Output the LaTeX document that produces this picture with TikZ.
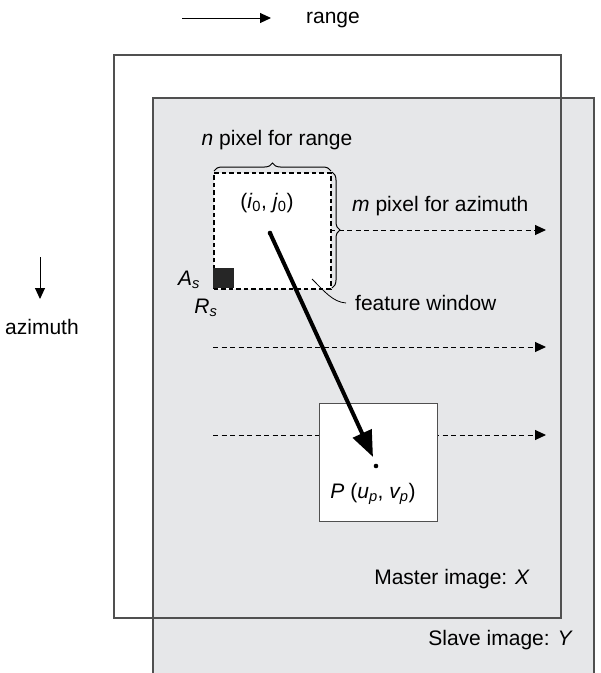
\documentclass[tikz,border=0pt]{standalone}
\usepackage{fontspec}
\setmainfont{Liberation Sans}
\usetikzlibrary{arrows.meta,decorations.pathreplacing,calc}
\definecolor{slavegray}{HTML}{E6E7E9}
\definecolor{edgegray}{HTML}{505050}
\begin{document}
\begin{tikzpicture}[x=1pt,y=-1pt,
  lbl/.style={font=\fontsize{21}{25}\selectfont, inner sep=0pt},
  tip/.style={-{Triangle[length=11pt,width=10pt]}},
  dasharrow/.style={tip, dash pattern=on 5pt off 3.5pt, line width=1pt},
  frame/.style={draw=edgegray, line width=1.2pt}]
\useasboundingbox (0,0) rectangle (601,673);
% slave image
\fill[slavegray] (153,98) rectangle (594,680);
\draw[frame] (153,680) -- (153,98) -- (594,98) -- (594,680);
% master image
\draw[frame] (114,55) rectangle (561,618);
% legend arrows
\coordinate (r0) at (182,18);
\coordinate (r1) at (271,18);
\draw[tip, line width=1pt] (r0) -- (r1);
\node[lbl] (range) at (333,20) {range};
\coordinate (a0) at (40,257);
\coordinate (a1) at (40,299);
\draw[tip, line width=1pt] (a0) -- (a1);
\node[lbl] (azi) at (42,327) {azimuth};
% dashed arrows
\coordinate (e1) at (546,230);
\coordinate (e2) at (546,347);
\coordinate (e3) at (546,435);
\coordinate (s2) at (213,347);
\coordinate (s3) at (213,435);
\draw[dasharrow] (330,230) -- (e1);
\draw[dasharrow] (s2) -- (e2);
\draw[dasharrow] (s3) -- (e3);
% feature window
\node[draw=black, fill=white, dash pattern=on 4.5pt off 3pt, line width=1.6pt, minimum width=117pt, minimum height=116pt, inner sep=0pt, anchor=north west] (fw) at (213,172) {};
\fill[black!85] (213,268) rectangle (234,288);
\node[lbl] (ij) at (267,203) {(\textit{i}\textsubscript{0}, \textit{j}\textsubscript{0})};
% braces
\draw[decorate, decoration={brace, amplitude=8pt}, line width=1pt] (214,171) -- (331,171);
\node[lbl] (nlab) at (277,140) {\textit{n} pixel for range};
\draw[decorate, decoration={brace, amplitude=8pt}, line width=1pt] (332,172) -- (332,288);
\node[lbl, anchor=west] (mlab) at (352,206) {\textit{m} pixel for azimuth};
\node[lbl] (As) at (189,280) {\textit{A\textsubscript{s}}};
\node[lbl] (Rs) at (206,308) {\textit{R\textsubscript{s}}};
% feature window label
\node[lbl, anchor=west] (fwl) at (355,303) {feature window};
\draw[line width=0.8pt] (312,279) .. controls (325,292) and (333,302) .. ([xshift=-9pt]fwl.west);
% bottom box
\node[draw=edgegray, fill=white, line width=1.2pt, minimum width=118pt, minimum height=118pt, inner sep=0pt, anchor=north west] (pbox) at (319,403) {};
\node[lbl] (plab) at (373,494) {\textit{P} (\textit{u\textsubscript{p}}, \textit{v\textsubscript{p}})};
% points
\coordinate (p0) at (270,233);
\coordinate (p1) at (376,466);
\fill (p0) circle (2.3pt);
\fill (p1) circle (2.3pt);
\coordinate (pe) at (373,457);
\draw[line width=4pt, -{Triangle[length=26pt,width=20pt]}] (p0) -- (pe);
% labels
\node[lbl, anchor=east] (mx) at (530,579) {Master image: \textit{X}};
\node[lbl, anchor=east] (sy) at (573,640) {Slave image: \textit{Y}};
\end{tikzpicture}
\end{document}
